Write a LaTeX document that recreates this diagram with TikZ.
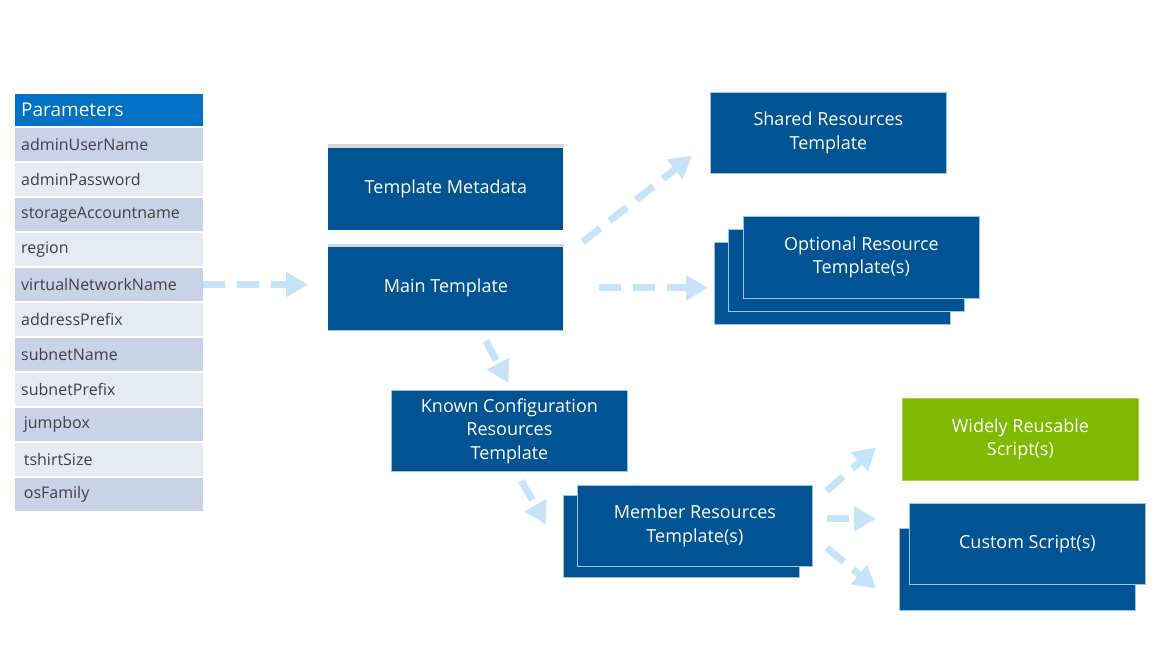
\documentclass[tikz,border=0pt]{standalone}
\usepackage{fontspec}
\setmainfont{Open Sans}
\usetikzlibrary{arrows.meta}
\definecolor{tblue}{HTML}{005493}
\definecolor{hblue}{HTML}{0072C6}
\definecolor{edge}{HTML}{9DC3E6}
\definecolor{rowdark}{HTML}{C9D3E8}
\definecolor{rowlight}{HTML}{E6EAF5}
\definecolor{tgrey}{HTML}{404040}
\definecolor{arr}{HTML}{C5E4FA}
\definecolor{tgreen}{HTML}{7FBA00}
\definecolor{topgrey}{HTML}{D6D6D6}
\newcommand{\boxfont}{\fontsize{18}{23.5}\selectfont}
\newcommand{\rowfont}{\fontsize{16}{20}\selectfont}
\begin{document}
\begin{tikzpicture}[x=1pt,y=-1pt,
  tbox/.style={fill=tblue, draw=edge, line width=0.8pt, text=white, align=center,
    minimum width=236pt, minimum height=82pt, anchor=north west, inner sep=0pt, font=\boxfont},
  prow/.style={anchor=north west, text width=176pt, inner xsep=6pt, inner ysep=0pt,
    minimum height=33pt, align=left, text=tgrey, font=\rowfont},
  dark/.style={prow, fill=rowdark},
  light/.style={prow, fill=rowlight},
  flow/.style={draw=arr, line width=7pt, dash pattern=on 22pt off 12pt,
    -{Triangle[length=22pt,width=24pt]}}
]
\useasboundingbox[fill=white] (0,0) rectangle (1158,650);

% Parameters table
\node[prow, fill=hblue, text=white, minimum height=32pt, font=\fontsize{19}{22}\selectfont] (ph) at (15,94) {Parameters};
\node[dark]  (p1)  at (15,128) {adminUserName};
\node[light] (p2)  at (15,163) {adminPassword};
\node[dark]  (p3)  at (15,198) {storageAccountname};
\node[light] (p4)  at (15,233) {region};
\node[dark]  (p5)  at (15,268) {virtualNetworkName};
\node[light] (p6)  at (15,303) {addressPrefix};
\node[dark]  (p7)  at (15,338) {subnetName};
\node[light] (p8)  at (15,373) {subnetPrefix};
\node[dark]  (p9)  at (15,408) {\,jumpbox};
\node[light] (p10) at (15,443) {\,tshirtSize};
\node[dark]  (p11) at (15,478) {\,osFamily};

% Template boxes
\node[tbox, draw=none, minimum height=84pt, minimum width=235pt] (meta) at (328,146) {Template Metadata};
\draw[topgrey, line width=4pt] (meta.north west) -- (meta.north east);
\node[tbox, draw=none, minimum height=85pt, minimum width=235pt] (main) at (328,245) {Main Template};
\draw[topgrey, line width=3pt] (main.north west) -- (main.north east);
\draw[edge, line width=1pt] (main.south west) -- (main.south east);

\node[tbox, minimum height=81pt] (shared) at (710,92) {Shared Resources\\Template};

\node[tbox] (opt3) at (714,242) {};
\node[tbox] (opt2) at (728,229) {};
\node[tbox] (opt1) at (743,216) {Optional Resource\\Template(s)};

\node[tbox, minimum height=81pt] (known) at (391,390) {Known Configuration\\Resources\\Template};

\node[tbox] (mem2) at (563,495) {};
\node[tbox, minimum width=235pt, minimum height=81pt] (mem1) at (577,485) {Member Resources\\Template(s)};

\node[tbox, fill=tgreen, draw=tgreen!70!white] (wide) at (902,398) {Widely Reusable\\Script(s)};

\node[tbox] (cus2) at (899,528) {};
\node[tbox, minimum height=81pt] (cus1) at (909,503) {Custom Script(s)};

% Connectors
\draw[flow, shorten >=20pt] (p5.east) -- (p5.east -| main.west);
\draw[flow] ([shift={(19,-3)}]main.north east) -- ([shift={(-18,-18)}]shared.south west);
\draw[flow, shorten <=35pt, shorten >=6pt] (main.east) -- (main.east -| opt3.west);
\draw[flow] ([shift={(40,10)}]main.south) -- ([shift={(-1,-7)}]known.north);
\draw[flow] ([shift={(12,9)}]known.south) -- ([shift={(-17,-12)}]mem2.west);
\draw[flow] ([shift={(14,-35)}]mem1.east) -- ([shift={(-26,8)}]wide.west);
\draw[flow] ([shift={(14,-7)}]mem1.east) -- ([shift={(-33,-25)}]cus1.west);
\draw[flow] ([shift={(14,22)}]mem1.east) -- ([shift={(-23,19)}]cus2.west);
\end{tikzpicture}
\end{document}
